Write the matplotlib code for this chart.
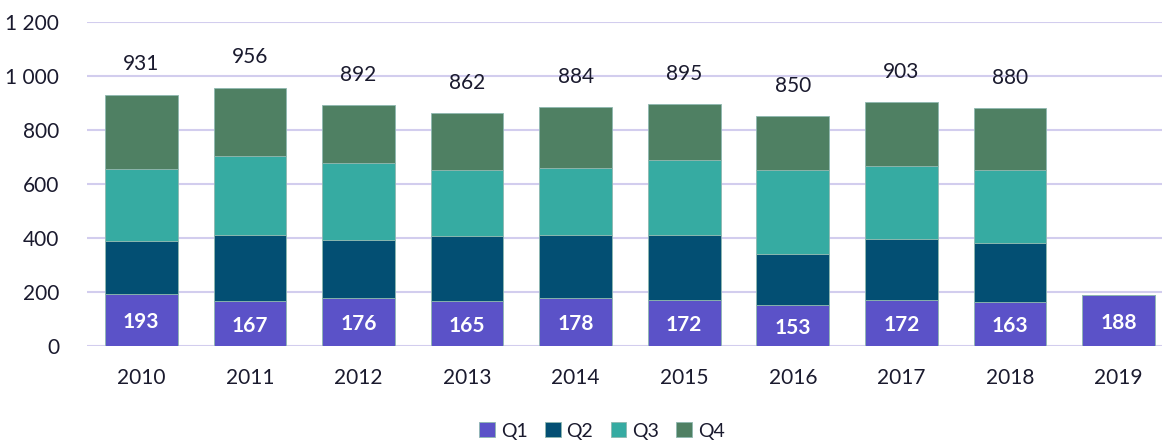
import numpy as np
import matplotlib
matplotlib.use("Agg")
import matplotlib.pyplot as plt
from matplotlib.ticker import FuncFormatter

plt.rcParams["font.family"] = ["Lato", "DejaVu Sans"]

years = ["2010", "2011", "2012", "2013", "2014", "2015", "2016", "2017", "2018", "2019"]
q1 = [193, 167, 176, 165, 178, 172, 153, 172, 163, 188]
q2 = [196, 244, 217, 244, 234, 239, 187, 224, 218, 0]
q3 = [268, 291, 286, 244, 247, 279, 312, 272, 271, 0]
totals = [931, 956, 892, 862, 884, 895, 850, 903, 880, None]
q4 = [t - a - b - c if t else 0 for t, a, b, c in zip(totals, q1, q2, q3)]

colors = {"Q1": "#5b52c8", "Q2": "#034f73", "Q3": "#36aba2", "Q4": "#4f8063"}
text_col = "#1a1a2e"

fig = plt.figure(figsize=(11.62, 4.4), dpi=100)
ax = fig.add_axes([87 / 1162, 94 / 440, (1162 - 87) / 1162, 324 / 440])

x = np.arange(len(years))
w = 0.67
bottom = np.zeros(len(years))
for name, vals in [("Q1", q1), ("Q2", q2), ("Q3", q3), ("Q4", q4)]:
    vals = np.array(vals, dtype=float)
    ax.bar(x, vals, w, bottom=bottom, color=colors[name], label=name,
           edgecolor="#8fb8b0", linewidth=0.6, zorder=3)
    bottom += vals

for i, v in enumerate(q1):
    ax.text(x[i], v / 2 - 8, str(v), ha="center", va="center", color="white",
            fontsize=15, fontweight="bold", zorder=4)
for i, t in enumerate(totals):
    if t:
        ax.annotate(str(t), (x[i], t), xytext=(0, 22), textcoords="offset points",
                    ha="center", va="center", fontsize=15, color=text_col)

ax.set_ylim(0, 1200)
ax.set_yticks(range(0, 1201, 200))
ax.yaxis.set_major_formatter(FuncFormatter(lambda v, p: f"{int(v):,}".replace(",", " ")))
ax.set_xlim(-0.50, 9.40)
ax.set_xticks(x)
ax.set_xticklabels(years)
ax.grid(axis="y", color="#d2cdee", linewidth=1.5, zorder=0)
ax.tick_params(axis="both", length=0, labelsize=15, labelcolor=text_col)
ax.tick_params(axis="x", pad=16)
ax.tick_params(axis="y", pad=20)
for s in ax.spines.values():
    s.set_visible(False)

ax.legend(loc="center", bbox_to_anchor=(602 / 1162, 9 / 440), bbox_transform=fig.transFigure,
          ncol=4, frameon=False, fontsize=14, handlelength=0.8, handleheight=0.8,
          handletextpad=0.3, columnspacing=0.9, labelcolor=text_col)

fig.savefig("out.png", dpi=100)
